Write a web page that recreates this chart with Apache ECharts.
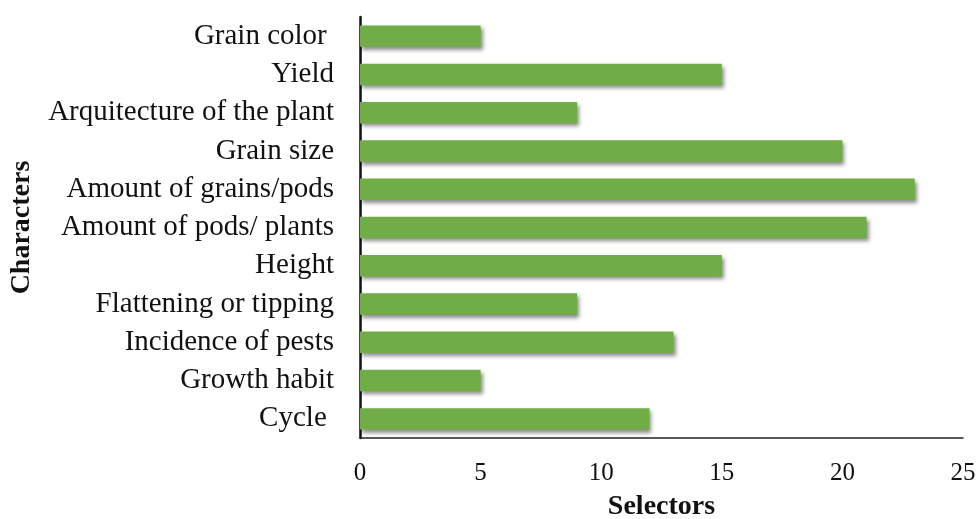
<!DOCTYPE html>
<html>
<head>
<meta charset="utf-8">
<script src="https://cdn.jsdelivr.net/npm/echarts@6/dist/echarts.min.js"></script>
<style>
  html, body { margin: 0; padding: 0; background: #fff; }
  #chart { width: 980px; height: 519px; }
</style>
</head>
<body>
<div id="chart"></div>
<script>
// Characters ranked by selectors (listed top to bottom)
const characters = [
  'Grain color ', 'Yield', 'Arquitecture of the plant', 'Grain size',
  'Amount of grains/pods', 'Amount of pods/ plants', 'Height',
  'Flattening or tipping', 'Incidence of pests', 'Growth habit', 'Cycle '
];
const selectors = [5, 15, 9, 20, 23, 21, 15, 9, 13, 5, 12];
const xTicks = { min: 0, max: 25, interval: 5 };

const serif = '"Liberation Serif", "DejaVu Serif", serif';
const chart = echarts.init(document.getElementById('chart'));
chart.setOption({
  animation: false,
  backgroundColor: '#ffffff',
  grid: {
    left: 360, right: 17, top: 17, bottom: 81,
    containLabel: false,
    outerBoundsMode: 'none'
  },
  xAxis: {
    type: 'value',
    min: xTicks.min, max: xTicks.max, interval: xTicks.interval,
    name: 'Selectors',
    nameLocation: 'middle',
    nameGap: 55,
    nameTextStyle: { fontFamily: serif, fontSize: 28, fontWeight: 'bold', color: '#111' },
    axisLine: { show: true, lineStyle: { color: '#222', width: 1.5 } },
    axisTick: { show: false },
    splitLine: { show: false },
    axisLabel: { fontFamily: serif, fontSize: 25, color: '#111', margin: 23, hideOverlap: false }
  },
  yAxis: {
    type: 'category',
    data: characters,
    inverse: true,
    name: 'Characters',
    nameLocation: 'middle',
    nameGap: 324,
    nameRotate: 90,
    nameTextStyle: { fontFamily: serif, fontSize: 28, fontWeight: 'bold', color: '#111' },
    axisLine: { show: true, lineStyle: { color: '#111', width: 2.5 } },
    axisTick: { show: false },
    axisLabel: { fontFamily: serif, fontSize: 29, color: '#111', margin: 26, interval: 0, hideOverlap: false }
  },
  series: [{
    type: 'bar',
    data: selectors,
    barCategoryGap: '44%',
    itemStyle: {
      color: '#70ad47',
      shadowColor: 'rgba(0,0,0,0.45)',
      shadowBlur: 4,
      shadowOffsetX: 2,
      shadowOffsetY: 3
    }
  }]
});
</script>
</body>
</html>
